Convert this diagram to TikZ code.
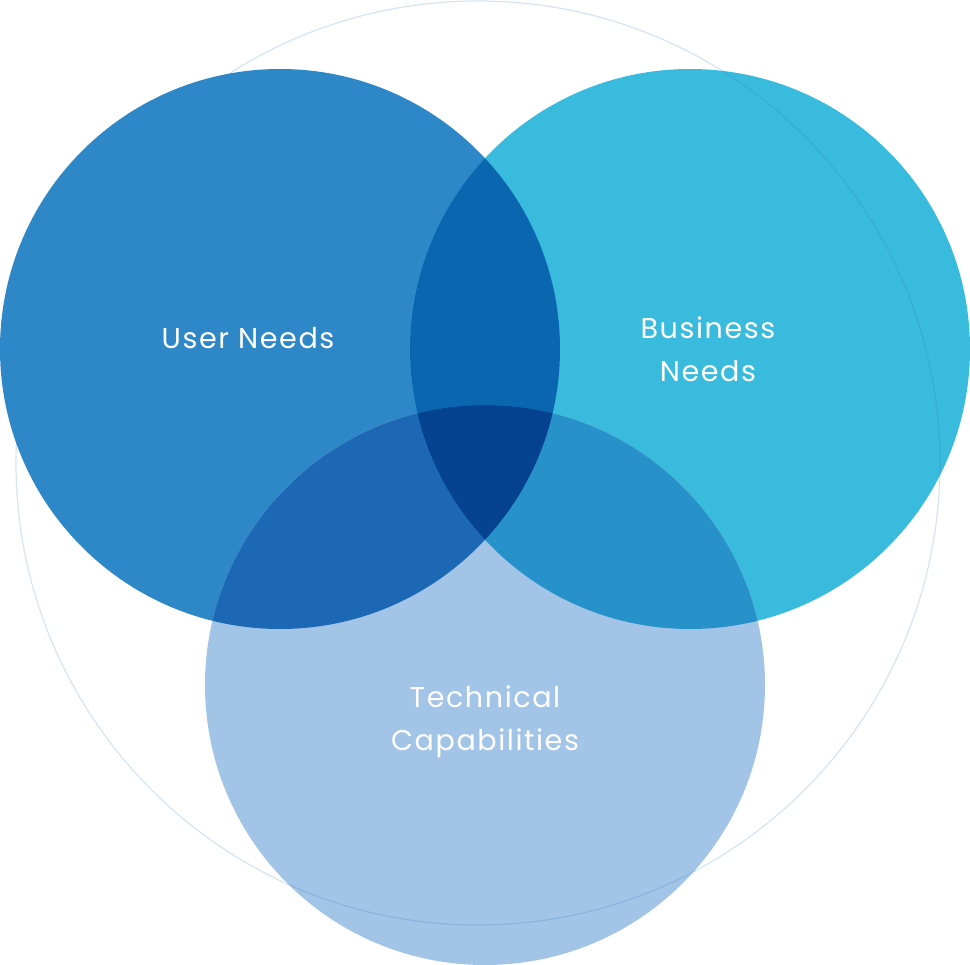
\documentclass[tikz,border=0pt]{standalone}
\usepackage{fontspec}
\setmainfont{Poppins}[LetterSpace=5.5]
\definecolor{cUser}{HTML}{2E88C8}
\definecolor{cBiz}{HTML}{38BBDC}
\definecolor{cTech}{HTML}{A2C4E6}
\definecolor{cUB}{HTML}{0A67AF}
\definecolor{cUT}{HTML}{1C68B4}
\definecolor{cBT}{HTML}{2792C9}
\definecolor{cAll}{HTML}{05428F}
\definecolor{cRing}{HTML}{2E78C0}
\tikzset{
  lbl/.style={text=white, font=\fontsize{28.6}{42.5}\selectfont, align=center},
}
\begin{document}
\begin{tikzpicture}[x=1pt,y=-1pt]
\useasboundingbox (0,0) rectangle (970,965);
\coordinate (U) at (280,349);
\coordinate (B) at (690,349);
\coordinate (T) at (485,685);
\coordinate (R) at (478,463);
% base circles
\fill[cUser] (U) circle (280);
\fill[cBiz] (B) circle (280);
\fill[cTech] (T) circle (280);
% pairwise overlaps
\begin{scope}
  \clip (U) circle (280);
  \fill[cUB] (B) circle (280);
  \fill[cUT] (T) circle (280);
\end{scope}
\begin{scope}
  \clip (B) circle (280);
  \fill[cBT] (T) circle (280);
\end{scope}
\begin{scope}
  \clip (U) circle (280);
  \clip (B) circle (280);
  \fill[cAll] (T) circle (280);
\end{scope}
% outer ring
\draw[cRing, draw opacity=0.2, line width=1.2] (R) circle (462);
% labels
\node[lbl] (user) at (248,338) {User Needs};
\node[lbl] (biz) at (708,349) {Business\\Needs};
\node[lbl] (tech) at (485,722) {Technical\\Capabilities};
\end{tikzpicture}
\end{document}
